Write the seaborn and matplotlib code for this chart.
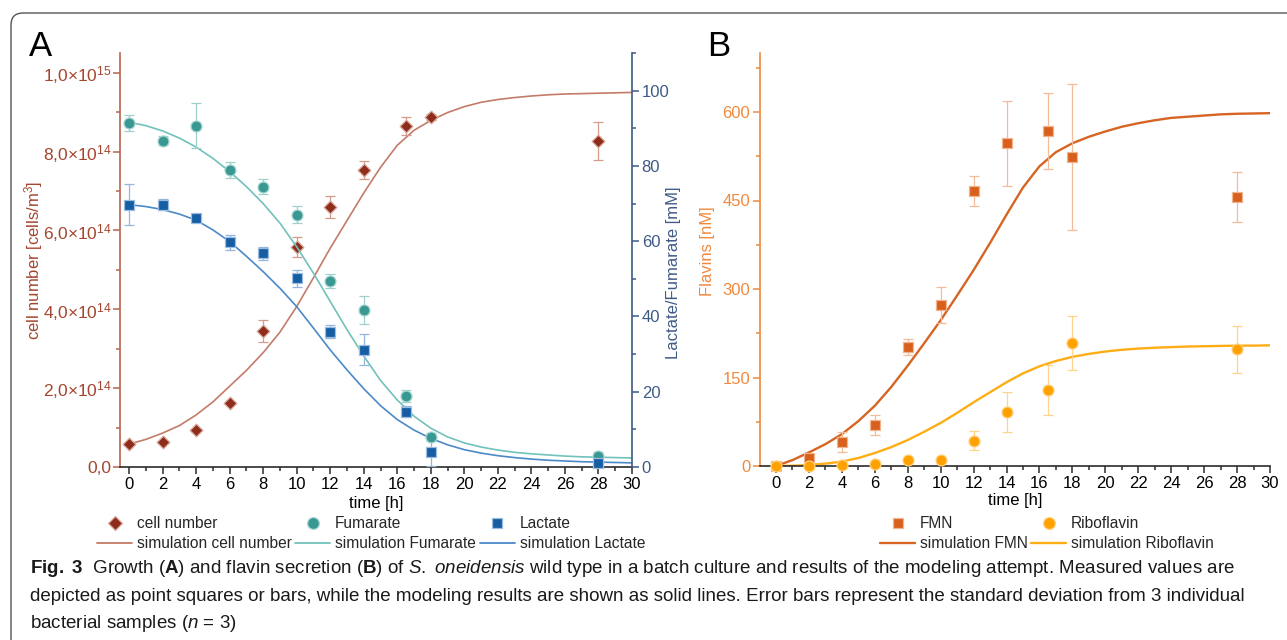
import numpy as np
import matplotlib
matplotlib.use("Agg")
import matplotlib.pyplot as plt
import seaborn as sns
from matplotlib import font_manager
from matplotlib.lines import Line2D
from matplotlib.patches import FancyBboxPatch
from matplotlib.transforms import IdentityTransform
from matplotlib.ticker import MultipleLocator, FixedLocator, FixedFormatter

# ---------------------------------------------------------------- data
# sampling times of the measurements [h]
t_meas = [0, 2, 4, 6, 8, 10, 12, 14, 16.5, 18, 28]

# (A) cell number [1e14 cells/m^3] with standard deviation
cells = [0.58, 0.63, 0.94, 1.62, 3.45, 5.58, 6.59, 7.53, 8.65, 8.88, 8.27]
cells_sd = [0.03, 0.03, 0.03, 0.03, 0.28, 0.25, 0.28, 0.22, 0.23, 0.08, 0.48]

# (A) fumarate and lactate [mM] with standard deviation
fumarate = [91.5, 86.7, 90.7, 79.0, 74.5, 67.0, 49.5, 41.7, 18.9, 8.0, 3.0]
fumarate_sd = [2.1, 1.2, 6.0, 2.1, 2.0, 2.3, 1.9, 3.8, 1.5, 1.0, 1.0]
lactate = [69.7, 69.7, 66.1, 59.7, 56.8, 50.1, 36.0, 31.2, 14.7, 3.9, 1.0]
lactate_sd = [5.5, 1.5, 0.8, 2.0, 1.7, 2.2, 1.8, 4.2, 1.5, 3.7, 0.6]

# (B) flavins [nM] with standard deviation
fmn = [0, 14, 40, 69.5, 202, 273, 466, 547, 568, 524, 456]
fmn_sd = [3, 6, 17, 17.5, 13.5, 30.5, 25.5, 72, 64, 124, 43]
ribo = [0, 0, 1, 4, 10, 10, 43, 91.5, 129, 208, 198]
ribo_sd = [1, 1, 1, 1, 1, 1, 16, 34, 43, 46, 40]

# model output, hourly
t_sim = list(range(0, 31))
cell_sim = [0.58, 0.70, 0.86, 1.05, 1.32, 1.65, 2.05, 2.45, 2.90, 3.42, 4.07,
            4.80, 5.55, 6.25, 6.95, 7.60, 8.16, 8.54, 8.79, 8.99, 9.14, 9.25,
            9.32, 9.37, 9.41, 9.44, 9.46, 9.47, 9.48, 9.49, 9.50]
fum_sim = [91.6, 90.7, 89.3, 87.4, 85.0, 82.0, 78.5, 74.5, 70.0, 64.8, 58.5,
           51.5, 44.0, 36.5, 29.5, 23.0, 17.8, 13.5, 10.3, 8.0, 6.4, 5.3,
           4.5, 3.9, 3.5, 3.2, 2.9, 2.7, 2.6, 2.5, 2.4]
lac_sim = [69.7, 69.2, 68.4, 67.2, 65.6, 63.0, 59.9, 56.0, 51.9, 47.5, 42.6,
           36.9, 31.1, 25.8, 20.8, 16.3, 12.6, 9.8, 7.6, 5.9, 4.6, 3.7,
           3.0, 2.5, 2.1, 1.8, 1.6, 1.4, 1.3, 1.2, 1.1]
fmn_sim = [0, 10, 23, 37, 54, 76, 102, 134, 170, 208, 247, 289, 332, 378,
           426, 472, 508, 532, 547, 558, 567, 575, 581, 586, 590, 592, 594,
           596, 597, 597.5, 598]
ribo_sim = [0, 0.5, 1.7, 4, 7.5, 13.5, 22, 32, 44, 58, 73, 90, 108, 125, 142,
            157, 169, 178, 185, 190, 194, 197, 199, 200.5, 201.5, 202.5, 203,
            203.5, 204, 204, 204.5]

# tick labels of the cell-number axis
cell_ticks = [0, 2e14, 4e14, 6e14, 8e14, 1e15]
cell_tick_labels = ["0,0", "2,0×10$^{14}$", "4,0×10$^{14}$", "6,0×10$^{14}$",
                    "8,0×10$^{14}$", "1,0×10$^{15}$"]

# ---------------------------------------------------------------- style
sns.set_theme(style="ticks")
names = {f.name for f in font_manager.fontManager.ttflist}
base_font = "Liberation Sans" if "Liberation Sans" in names else "DejaVu Sans"
cap_font = "Liberation Sans Narrow" if "Liberation Sans Narrow" in names else base_font
plt.rcParams["font.family"] = [base_font, "DejaVu Sans"]
plt.rcParams["mathtext.fontset"] = "custom"
plt.rcParams["mathtext.default"] = "regular"
plt.rcParams["mathtext.rm"] = cap_font
plt.rcParams["mathtext.bf"] = cap_font + ":bold"
plt.rcParams["mathtext.it"] = cap_font + ":italic"

C_CELL, C_CELL_EB, C_CELL_LN = "#8e2d1c", "#d49a8c", "#c47b69"
C_FUM, C_FUM_EB, C_FUM_LN = "#3a9893", "#9fd0cc", "#72c1bb"
C_LAC, C_LAC_EB, C_LAC_LN = "#155ea4", "#92b6dc", "#4b89c8"
C_FMN, C_FMN_EB, C_FMN_LN = "#d9601c", "#f3bb98", "#d66422"
C_RIB, C_RIB_EB, C_RIB_LN = "#ffa200", "#ffd48a", "#ffad15"
AX_L_TXT, AX_L_SP = "#a4462f", "#b9644e"
AX_R = "#3e5a86"
AX_B = "#ef893e"
DARK = "#2b2b2b"

W, H = 1287, 640
fig = plt.figure(figsize=(W / 100, H / 100), dpi=100)
fig.patch.set_facecolor("white")

axA = fig.add_axes([120 / W, 1 - 467 / H, 512 / W, 414 / H])
axA2 = axA.twinx()
axB = fig.add_axes([760 / W, 1 - 466 / H, 510 / W, 413 / H])

t_sim_a = np.array(t_sim, dtype=float)


def points(ax, x, y, err, color, ecolor, edge, marker, size):
    ax.errorbar(x, y, yerr=err, fmt="none", ecolor=ecolor, elinewidth=0.9,
                capsize=3.5, capthick=0.9, zorder=3, clip_on=False)
    sns.scatterplot(x=x, y=y, ax=ax, marker=marker, s=size, color=color,
                    edgecolor=edge, linewidth=0.9, zorder=4, clip_on=False,
                    legend=False)


# ---------------------------------------------------------------- panel A
sns.lineplot(x=t_sim_a, y=np.array(cell_sim) * 1e14, ax=axA, color=C_CELL_LN,
             lw=1.2, legend=False, zorder=2)
points(axA, t_meas, np.array(cells) * 1e14, np.array(cells_sd) * 1e14,
       C_CELL, C_CELL_EB, "#d9a99c", "D", 42)

sns.lineplot(x=t_sim_a, y=fum_sim, ax=axA2, color=C_FUM_LN, lw=1.2,
             legend=False, zorder=2)
sns.lineplot(x=t_sim_a, y=lac_sim, ax=axA2, color=C_LAC_LN, lw=1.2,
             legend=False, zorder=2)
points(axA2, t_meas, fumarate, fumarate_sd, C_FUM, C_FUM_EB, "#a8d6d2", "o", 62)
points(axA2, t_meas, lactate, lactate_sd, C_LAC, C_LAC_EB, "#9cbde0", "s", 44)

axA.set_xlim(-0.54, 30)
axA.set_ylim(0, 1.05e15)
axA2.set_ylim(0, 110)

axA.xaxis.set_major_locator(MultipleLocator(2))
axA.xaxis.set_minor_locator(MultipleLocator(1))
axA.yaxis.set_major_locator(FixedLocator(cell_ticks))
axA.yaxis.set_major_formatter(FixedFormatter(cell_tick_labels))
axA.yaxis.set_minor_locator(MultipleLocator(1e14))
axA2.yaxis.set_major_locator(MultipleLocator(20))
axA2.yaxis.set_minor_locator(MultipleLocator(10))

for sp in ("top", "right"):
    axA.spines[sp].set_visible(False)
for sp in ("top", "left", "bottom"):
    axA2.spines[sp].set_visible(False)
axA.spines["left"].set_color(AX_L_SP)
axA.spines["bottom"].set_color(DARK)
axA2.spines["right"].set_color(AX_R)
for sp in (axA.spines["left"], axA.spines["bottom"], axA2.spines["right"]):
    sp.set_linewidth(1.2)

axA.tick_params(axis="x", which="major", length=5, width=1.1, color=DARK,
                labelcolor="black", labelsize=12, pad=2, direction="out")
axA.tick_params(axis="x", which="minor", length=3, width=1.1, color=DARK,
                direction="out")
axA.tick_params(axis="y", which="major", length=5, width=1.1, color=AX_L_SP,
                labelcolor=AX_L_TXT, labelsize=12.5, pad=1, direction="out")
axA.tick_params(axis="y", which="minor", length=3, width=1.1, color=AX_L_SP,
                direction="out")
axA2.tick_params(axis="y", which="major", length=5, width=1.1, color=AX_R,
                 labelcolor=AX_R, labelsize=12, pad=2, direction="out")
axA2.tick_params(axis="y", which="minor", length=3, width=1.1, color=AX_R,
                 direction="out")

axA.set_xlabel("time [h]", fontsize=12, color="black")
axA.xaxis.set_label_coords(0.5, -0.07)
axA.set_ylabel("cell number [cells/m$^3$]", fontsize=12, color=AX_L_TXT)
axA.yaxis.set_label_coords(-0.146, 0.5)
axA2.set_ylabel("Lactate/Fumarate [mM]", fontsize=12, color=AX_R)
axA2.yaxis.set_label_coords(1.066, 0.47)

# ---------------------------------------------------------------- panel B
sns.lineplot(x=t_sim_a, y=fmn_sim, ax=axB, color=C_FMN_LN, lw=1.7,
             legend=False, zorder=2)
sns.lineplot(x=t_sim_a, y=ribo_sim, ax=axB, color=C_RIB_LN, lw=1.7,
             legend=False, zorder=2)
points(axB, t_meas, fmn, fmn_sd, C_FMN, C_FMN_EB, "#f0b48e", "s", 46)
points(axB, t_meas, ribo, ribo_sd, C_RIB, C_RIB_EB, "#ffd080", "o", 62)

axB.set_xlim(-0.97, 30)
axB.set_ylim(0, 700)
axB.xaxis.set_major_locator(MultipleLocator(2))
axB.xaxis.set_minor_locator(MultipleLocator(1))
axB.yaxis.set_major_locator(FixedLocator([0, 150, 300, 450, 600]))
axB.yaxis.set_minor_locator(MultipleLocator(75))
for sp in ("top", "right"):
    axB.spines[sp].set_visible(False)
axB.spines["left"].set_color(AX_B)
axB.spines["bottom"].set_color(DARK)
axB.spines["left"].set_linewidth(1.2)
axB.spines["bottom"].set_linewidth(1.2)
axB.tick_params(axis="x", which="major", length=5, width=1.1, color=DARK,
                labelcolor="black", labelsize=12, pad=2, direction="out")
axB.tick_params(axis="x", which="minor", length=3, width=1.1, color=DARK,
                direction="out")
axB.tick_params(axis="y", which="major", length=5, width=1.1, color=AX_B,
                labelcolor=AX_B, labelsize=12, pad=2, direction="out")
axB.tick_params(axis="y", which="minor", length=3, width=1.1, color=AX_B,
                direction="out")
axB.set_xlabel("time [h]", fontsize=12, color="black")
axB.xaxis.set_label_coords(0.5, -0.066)
axB.set_ylabel("Flavins [nM]", fontsize=12, color=AX_B)
axB.yaxis.set_label_coords(-0.088, 0.52)

for ax in (axA, axA2, axB):
    ax.set_facecolor("none")
    ax.grid(False)

# ---------------------------------------------------------------- legends
def mk(marker, color, edge, ms):
    return Line2D([], [], ls="none", marker=marker, ms=ms, color=color,
                  mec=edge, mew=0.9)


def ln(color, lw):
    return Line2D([], [], color=color, lw=lw)


leg_kw = dict(loc="upper left", frameon=False, fontsize=11.2,
              handlelength=2.25, handletextpad=0.3, columnspacing=0.25,
              labelspacing=0.32, borderpad=0, borderaxespad=0)

fig.legend(handles=[mk("D", C_CELL, "#d9a99c", 7), ln(C_CELL_LN, 1.3),
                    mk("o", C_FUM, "#a8d6d2", 8.5), ln(C_FUM_LN, 1.3),
                    mk("s", C_LAC, "#9cbde0", 7.5), ln(C_LAC_LN, 1.3)],
           labels=["cell number", "simulation cell number",
                   "Fumarate", "simulation Fumarate",
                   "Lactate", "simulation Lactate"],
           ncol=3, bbox_to_anchor=(97 / W, 1 - 516 / H), **leg_kw)

fig.legend(handles=[mk("s", C_FMN, "#f0b48e", 7.5), ln(C_FMN_LN, 1.7),
                    mk("o", C_RIB, "#ffd080", 8.5), ln(C_RIB_LN, 1.7)],
           labels=["FMN", "simulation FMN", "Riboflavin", "simulation Riboflavin"],
           ncol=2, bbox_to_anchor=(880 / W, 1 - 516 / H), **leg_kw)

# ---------------------------------------------------------------- panel letters
fig.text(29 / W, 1 - 56 / H, "A", fontsize=25, va="baseline", color="black")
fig.text(707 / W, 1 - 56 / H, "B", fontsize=25, va="baseline", color="black")

# ---------------------------------------------------------------- caption
cap_lines = [
    r"$\mathbf{Fig.}$ $\mathbf{3}$  Growth ($\mathbf{A}$) and flavin secretion ($\mathbf{B}$) of "
    r"$\mathit{S.}$ $\mathit{oneidensis}$ wild type in a batch culture and results of the "
    r"modeling attempt. Measured values are",
    "depicted as point squares or bars, while the modeling results are shown as "
    "solid lines. Error bars represent the standard deviation from 3 individual",
    r"bacterial samples ($\mathit{n}$ = 3)",
]
cap_base = [573, 601, 628]
cap_fs = 14.0
first = fig.text(30 / W, 1 - cap_base[0] / H, cap_lines[0], fontsize=cap_fs,
                 family=cap_font, va="baseline", color="#1a1a1a")
fig.canvas.draw()
width = first.get_window_extent(renderer=fig.canvas.get_renderer()).width
cap_fs = cap_fs * 1208 / width
first.set_fontsize(cap_fs)
for txt, yb in zip(cap_lines[1:], cap_base[1:]):
    fig.text(30 / W, 1 - yb / H, txt, fontsize=cap_fs, family=cap_font,
             va="baseline", color="#1a1a1a")

# rounded frame around the figure block
frame = FancyBboxPatch((11, -30), 1400, (H - 13) + 30,
                       boxstyle="round,pad=0,rounding_size=12",
                       transform=IdentityTransform(), fc="none",
                       ec="#555555", lw=1.0)
fig.add_artist(frame)

fig.savefig("out.png", dpi=100)
